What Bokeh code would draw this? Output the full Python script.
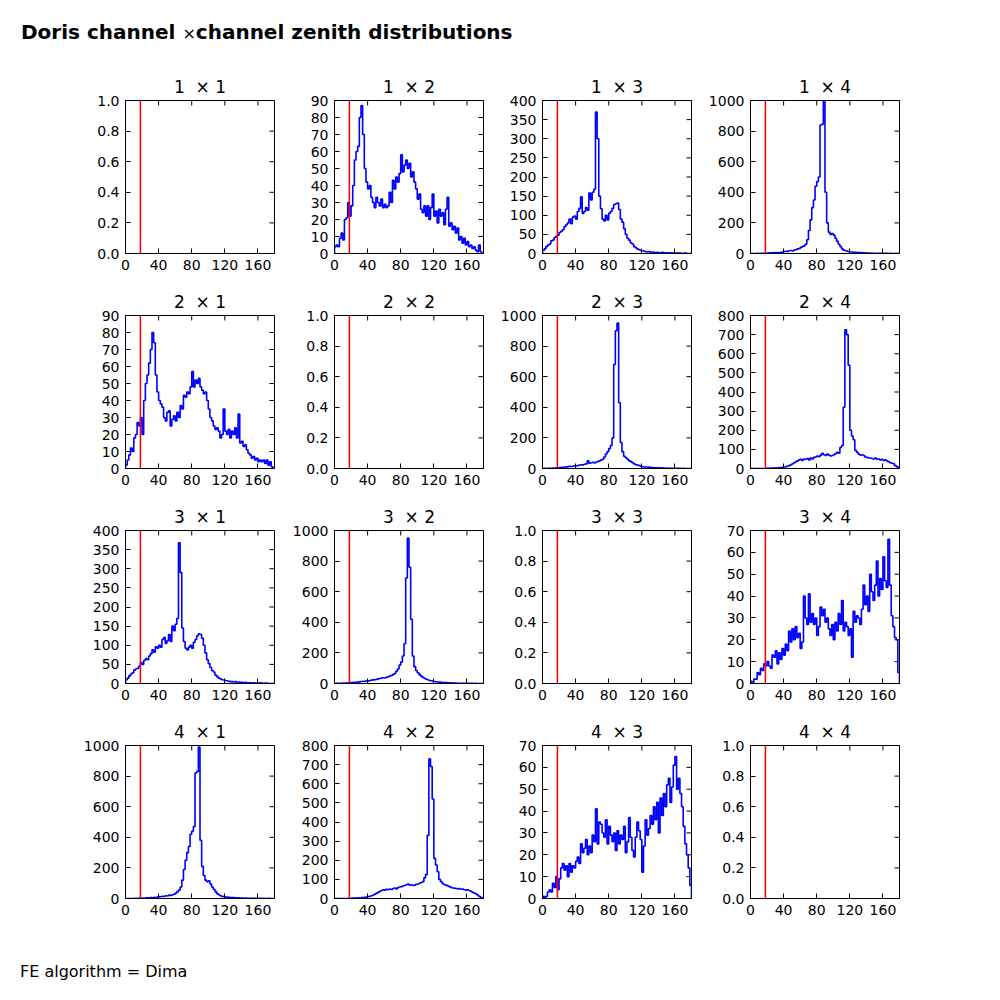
import numpy as np
from bokeh.plotting import figure
from bokeh.models import ColumnDataSource, Span, FixedTicker, PrintfTickFormatter, Range1d, Div
from bokeh.layouts import column, row
from bokeh.embed import file_html
from bokeh.resources import INLINE

# ---------------- data ----------------
channels = [1, 2, 3, 4]
zenith_range = (0, 180)
x_ticks = [0, 40, 80, 120, 160]
cut_zenith = 18
footer = "FE algorithm = Dima"

counts_1_2 = [4, 5, 4, 9, 12, 8, 20, 21, 30, 22, 28, 40, 55, 60, 63, 80, 87, 70, 50, 42,
              38, 40, 33, 30, 27, 33, 30, 28, 32, 27, 29, 27, 28, 36, 30, 43, 38, 45, 42, 47,
              58, 48, 52, 55, 50, 53, 45, 48, 42, 38, 32, 35, 26, 24, 28, 22, 28, 20, 27, 35,
              22, 25, 18, 26, 22, 24, 17, 26, 33, 16, 18, 14, 16, 12, 15, 8, 10, 6, 9, 5,
              7, 4, 5, 3, 4, 2, 1, 5, 1, 0]
counts_2_1 = [2, 5, 8, 12, 10, 18, 20, 27, 25, 30, 20, 40, 50, 55, 62, 70, 80, 74, 55, 45,
              40, 38, 36, 30, 28, 33, 34, 25, 29, 31, 28, 33, 30, 37, 35, 43, 42, 45, 44, 48,
              57, 48, 52, 50, 53, 48, 46, 44, 45, 40, 35, 30, 28, 25, 23, 24, 22, 18, 20, 35,
              22, 20, 23, 18, 22, 20, 24, 18, 32, 15, 16, 13, 14, 11, 9, 8, 6, 7, 5, 6,
              4, 5, 4, 5, 3, 5, 2, 4, 1, 0]
counts_1_3 = [8, 12, 18, 22, 25, 33, 35, 42, 45, 48, 55, 58, 62, 70, 75, 80, 90, 78, 95, 98,
              90, 110, 118, 148, 105, 110, 120, 113, 158, 140, 160, 168, 370, 300, 150, 117, 90, 85, 100, 88,
              105, 110, 118, 128, 130, 132, 115, 90, 82, 65, 50, 40, 35, 28, 25, 18, 15, 12, 10, 8,
              7, 6, 5, 4, 5, 3, 4, 3, 2, 3, 2, 2, 3, 2, 2, 1, 2, 1, 2, 1,
              1, 2, 1, 1, 0, 1, 1, 0, 0, 0]
counts_3_1 = [10, 14, 20, 25, 28, 35, 38, 40, 45, 55, 50, 60, 65, 62, 72, 78, 88, 82, 96, 92,
              100, 95, 115, 120, 105, 112, 128, 110, 150, 138, 155, 170, 368, 290, 145, 110, 92, 88, 95, 100,
              92, 108, 115, 125, 130, 128, 118, 100, 80, 62, 52, 42, 34, 30, 22, 18, 14, 12, 10, 9,
              8, 7, 6, 5, 5, 4, 5, 3, 4, 3, 3, 2, 3, 2, 2, 2, 1, 2, 1, 1,
              1, 2, 1, 0, 1, 1, 0, 0, 0, 0]
counts_1_4 = [0, 0, 0, 0, 1, 0, 1, 2, 1, 2, 3, 4, 5, 5, 6, 4, 7, 5, 8, 10,
              12, 15, 14, 18, 20, 16, 22, 25, 30, 32, 40, 45, 50, 60, 90, 150, 220, 300, 350, 440,
              470, 500, 840, 845, 1000, 400, 200, 140, 125, 130, 120, 100, 80, 60, 45, 30, 22, 18, 15, 12,
              10, 10, 8, 8, 7, 6, 6, 5, 5, 4, 3, 3, 2, 3, 2, 2, 1, 2, 1, 1,
              2, 1, 1, 0, 1, 0, 0, 0, 1, 0]
counts_4_1 = [0, 0, 0, 0, 0, 1, 0, 1, 2, 1, 3, 2, 4, 5, 4, 6, 5, 8, 7, 10,
              12, 11, 15, 14, 18, 16, 22, 20, 25, 28, 35, 45, 55, 75, 120, 190, 250, 300, 340, 420,
              440, 470, 820, 830, 990, 380, 210, 150, 120, 110, 115, 95, 75, 60, 45, 32, 25, 18, 14, 12,
              10, 9, 8, 7, 6, 6, 5, 5, 4, 3, 3, 2, 3, 2, 2, 1, 2, 1, 1, 1,
              2, 1, 0, 1, 0, 0, 1, 0, 0, 0]
counts_2_3 = [0, 1, 0, 2, 1, 2, 3, 2, 5, 4, 6, 7, 8, 10, 9, 12, 14, 13, 15, 18,
              16, 20, 22, 25, 24, 28, 30, 50, 35, 38, 40, 36, 42, 45, 50, 55, 60, 75, 95, 110,
              130, 150, 200, 680, 900, 950, 430, 170, 110, 80, 70, 60, 50, 45, 38, 30, 25, 22, 20, 15,
              12, 10, 10, 8, 9, 7, 6, 5, 5, 4, 4, 3, 4, 3, 2, 3, 2, 2, 2, 1,
              2, 1, 1, 1, 0, 1, 0, 0, 0, 0]
counts_3_2 = [0, 1, 1, 2, 1, 3, 2, 4, 5, 6, 5, 8, 7, 10, 9, 12, 13, 15, 14, 18,
              17, 20, 22, 24, 25, 27, 30, 33, 35, 38, 36, 40, 44, 48, 52, 58, 65, 80, 95, 120,
              140, 180, 260, 690, 950, 760, 420, 180, 110, 85, 70, 58, 48, 40, 34, 28, 25, 20, 18, 15,
              13, 11, 10, 9, 8, 7, 6, 6, 5, 4, 4, 3, 3, 3, 2, 2, 2, 2, 1, 2,
              1, 1, 1, 1, 0, 1, 0, 0, 0, 0]
counts_2_4 = [0, 0, 0, 0, 0, 0, 0, 0, 0, 1, 2, 1, 3, 2, 3, 4, 3, 5, 4, 6,
              8, 10, 12, 15, 20, 25, 30, 35, 40, 45, 48, 42, 50, 48, 52, 45, 55, 50, 58, 60,
              65, 62, 70, 80, 72, 68, 75, 70, 65, 68, 72, 78, 85, 80, 110, 120, 320, 725, 700, 540,
              200, 170, 150, 95, 85, 75, 70, 72, 68, 60, 58, 55, 55, 52, 50, 55, 48, 50, 45, 48,
              42, 45, 40, 35, 30, 28, 25, 15, 10, 5]
counts_4_2 = [0, 0, 0, 0, 0, 0, 0, 0, 1, 0, 2, 2, 3, 3, 4, 3, 5, 5, 6, 8,
              10, 12, 14, 18, 22, 28, 32, 38, 42, 45, 44, 48, 46, 50, 47, 52, 55, 50, 57, 60,
              62, 65, 68, 72, 75, 70, 72, 68, 70, 74, 76, 80, 84, 88, 108, 125, 330, 730, 690, 520,
              210, 175, 140, 100, 88, 78, 72, 70, 66, 62, 58, 55, 54, 52, 50, 52, 48, 50, 46, 44,
              45, 42, 38, 33, 28, 25, 18, 12, 6, 3]
counts_3_4 = [1, 0, 2, 2, 5, 4, 7, 6, 9, 8, 10, 8, 7, 13, 12, 15, 9, 14, 11, 16,
              13, 18, 15, 24, 19, 25, 20, 26, 21, 23, 16, 19, 40, 30, 27, 41, 28, 32, 27, 30,
              22, 26, 35, 31, 34, 28, 30, 25, 22, 27, 20, 28, 24, 32, 27, 38, 24, 28, 26, 22,
              25, 12, 33, 28, 31, 30, 27, 34, 45, 36, 40, 33, 50, 42, 38, 45, 56, 40, 48, 43,
              58, 47, 44, 66, 45, 31, 26, 21, 20, 5]
counts_4_3 = [1, 0, 1, 3, 4, 3, 7, 5, 10, 4, 9, 14, 16, 13, 15, 10, 16, 12, 15, 14,
              17, 19, 16, 25, 21, 23, 27, 20, 24, 21, 29, 26, 41, 25, 35, 34, 30, 28, 36, 25,
              33, 29, 26, 30, 22, 31, 25, 29, 27, 33, 21, 26, 37, 28, 22, 19, 28, 35, 31, 27,
              12, 24, 36, 29, 32, 38, 34, 42, 36, 44, 30, 46, 38, 48, 42, 52, 55, 44, 51, 61,
              65, 50, 55, 48, 42, 33, 25, 20, 14, 6]

counts = {
    (1, 2): counts_1_2, (1, 3): counts_1_3, (1, 4): counts_1_4,
    (2, 1): counts_2_1, (2, 3): counts_2_3, (2, 4): counts_2_4,
    (3, 1): counts_3_1, (3, 2): counts_3_2, (3, 4): counts_3_4,
    (4, 1): counts_4_1, (4, 2): counts_4_2, (4, 3): counts_4_3,
}
y_max = {(1, 2): 90, (2, 1): 90, (1, 3): 400, (3, 1): 400, (1, 4): 1000, (4, 1): 1000,
         (2, 3): 1000, (3, 2): 1000, (2, 4): 800, (4, 2): 800, (3, 4): 70, (4, 3): 70}
y_step = {90: 10, 400: 50, 1000: 200, 800: 100, 70: 10, 1: 0.2}

# ---------------- layout ----------------
FONT = "DejaVu Sans"
left_border = [125, 50, 49, 49]


def style_axis(ax, ticker, fmt=None):
    ax.ticker = ticker
    if fmt is not None:
        ax.formatter = fmt
    ax.axis_line_color = "black"
    ax.major_tick_line_color = "black"
    ax.major_tick_in = 5
    ax.major_tick_out = 0
    ax.minor_tick_line_color = None
    ax.major_label_text_font = FONT
    ax.major_label_text_color = "black"
    ax.major_label_text_font_size = "14px"
    ax.major_label_standoff = 6


rows = []
for i in channels:
    figs = []
    for ci, j in enumerate(channels):
        key = (i, j)
        ymax = y_max.get(key, 1)
        step = y_step[ymax]
        p = figure(frame_width=149, frame_height=153,
                   x_range=Range1d(*zenith_range), y_range=Range1d(0, ymax),
                   output_backend="svg", toolbar_location=None,
                   min_border_left=left_border[ci], min_border_right=10,
                   min_border_top=32, min_border_bottom=30,
                   title=f"{i}\u00a0 \u00d7 {j}")
        p.title.align = "center"
        p.title.text_font = FONT
        p.title.text_font_size = "17px"
        p.title.text_font_style = "normal"
        p.title.text_color = "black"
        p.title.standoff = 7
        p.xgrid.visible = False
        p.ygrid.visible = False
        p.outline_line_color = "black"
        p.outline_line_alpha = 1
        p.background_fill_color = "white"
        p.border_fill_color = "white"

        y_ticks = [float(v) for v in np.round(np.arange(0, ymax + step / 2, step), 3)]
        yfmt = PrintfTickFormatter(format="%.1f") if ymax == 1 else None
        style_axis(p.xaxis[0], FixedTicker(ticks=x_ticks))
        style_axis(p.yaxis[0], FixedTicker(ticks=y_ticks), yfmt)

        # inward tick marks on the top and right edges (mirrors of the axis ticks)
        p.scatter(x=x_ticks, y=[ymax] * len(x_ticks), marker="dash", angle=np.pi / 2,
                  size=10, line_color="black", line_width=1)
        p.scatter(x=[zenith_range[1]] * len(y_ticks), y=y_ticks, marker="dash",
                  size=10, line_color="black", line_width=1)

        if key in counts:
            vals = np.asarray(counts[key], dtype=float)
            edges = np.linspace(zenith_range[0], zenith_range[1], len(vals) + 1)
            xs = np.repeat(edges, 2)
            ys = np.concatenate([[0], np.repeat(vals, 2), [0]])
            src = ColumnDataSource(dict(x=xs, y=ys))
            p.line("x", "y", source=src, line_color="#0000ff", line_width=1.6)

        p.add_layout(Span(location=cut_zenith, dimension="height",
                          line_color="#ff0000", line_width=1.5))
        figs.append(p)
    rows.append(row(*figs, spacing=0))

title_div = Div(text=("<b>Doris channel <span style='font-weight:normal;font-size:16px'>\u00d7</span>"
                      "channel zenith distributions</b>"),
                width=900, height=68, margin=0,
                styles={"font-family": FONT, "font-size": "20px", "color": "black",
                        "padding-top": "18px", "padding-left": "21px"})
footer_div = Div(text=footer, width=900, height=60, margin=0,
                 styles={"font-family": FONT, "font-size": "16px", "color": "black",
                         "padding-top": "33px", "padding-left": "20px"})

layout = column(title_div, *rows, footer_div, spacing=0)

open("out.html", "w").write(file_html(layout, INLINE))
